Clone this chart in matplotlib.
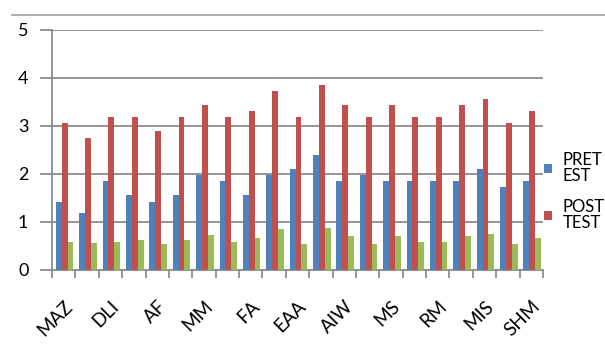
import matplotlib
matplotlib.use("Agg")
import matplotlib.pyplot as plt
import numpy as np
from matplotlib.lines import Line2D

plt.rcParams['font.family'] = ['Lato', 'DejaVu Sans']

# Tick labels shown (every other category)
shown_labels = ["MAZ", "DLI", "AF", "MM", "FA", "EAA", "AIW", "MS", "RM", "MIS", "SHM"]
n_categories = 21

pretest = [1.42, 1.18, 1.85, 1.56, 1.42, 1.56, 1.97, 1.85, 1.56, 1.97, 2.10,
           2.40, 1.85, 1.98, 1.85, 1.85, 1.85, 1.85, 2.10, 1.72, 1.85]
posttest = [3.06, 2.76, 3.18, 3.18, 2.90, 3.18, 3.43, 3.18, 3.31, 3.73, 3.18,
            3.85, 3.43, 3.18, 3.43, 3.18, 3.18, 3.43, 3.56, 3.06, 3.31]
third = [0.59, 0.56, 0.59, 0.63, 0.54, 0.63, 0.72, 0.59, 0.67, 0.85, 0.54,
         0.88, 0.71, 0.54, 0.71, 0.59, 0.59, 0.71, 0.75, 0.54, 0.67]
series_names = ["PRET\nEST", "POST\nTEST", "_nolegend_"]
colors = ["#4F81BD", "#C0504D", "#9BBB59"]

fig = plt.figure(figsize=(6.05, 3.56), dpi=100)
ax = fig.add_axes([52/605, 1-270/356, (543-52)/605, 240/356])

x = np.arange(n_categories)
w = 0.25
for i, (vals, c, name) in enumerate(zip([pretest, posttest, third], colors, series_names)):
    ax.bar(x + (i-1)*w + 0.04, vals, width=w, color=c, label=name, zorder=3)

ax.set_xlim(-0.5, n_categories-0.5)
ax.set_ylim(0, 5)
ax.set_yticks([0, 1, 2, 3, 4, 5])
ax.grid(axis='y', color='#8c8c8c', linewidth=1.3, zorder=0)
for s in ['top', 'right']:
    ax.spines[s].set_visible(False)
for s in ['left', 'bottom']:
    ax.spines[s].set_color('#8c8c8c')
    ax.spines[s].set_linewidth(1.3)
ax.tick_params(axis='y', length=9, color='#8c8c8c', width=1.3, labelsize=13, pad=8)

# boundary ticks (major) and labels at centers (minor)
ax.set_xticks(np.arange(-0.5, n_categories, 1.0))
ax.set_xticklabels([])
ax.tick_params(axis='x', which='major', length=6, color='#8c8c8c', width=1.3)
ax.set_xticks(np.arange(0, n_categories, 2), minor=True)
ax.set_xticklabels(shown_labels, minor=True, rotation=45, ha='right',
                   rotation_mode='anchor', fontsize=13.5)
ax.tick_params(axis='x', which='minor', length=0, pad=20)

leg = fig.legend(loc='upper left', bbox_to_anchor=(544/605, 1-152/356), frameon=False,
                 fontsize=12, handlelength=0.5, handleheight=0.5,
                 handletextpad=0.6, labelspacing=0.9, borderaxespad=0, borderpad=0)
for t in leg.get_texts():
    t.set_linespacing(1.0)

fig.add_artist(Line2D([12/605, 1.0], [1-15/356, 1-15/356], color='#a0a0a0',
                      linewidth=1.2, transform=fig.transFigure))

fig.savefig("out.png", dpi=100)
